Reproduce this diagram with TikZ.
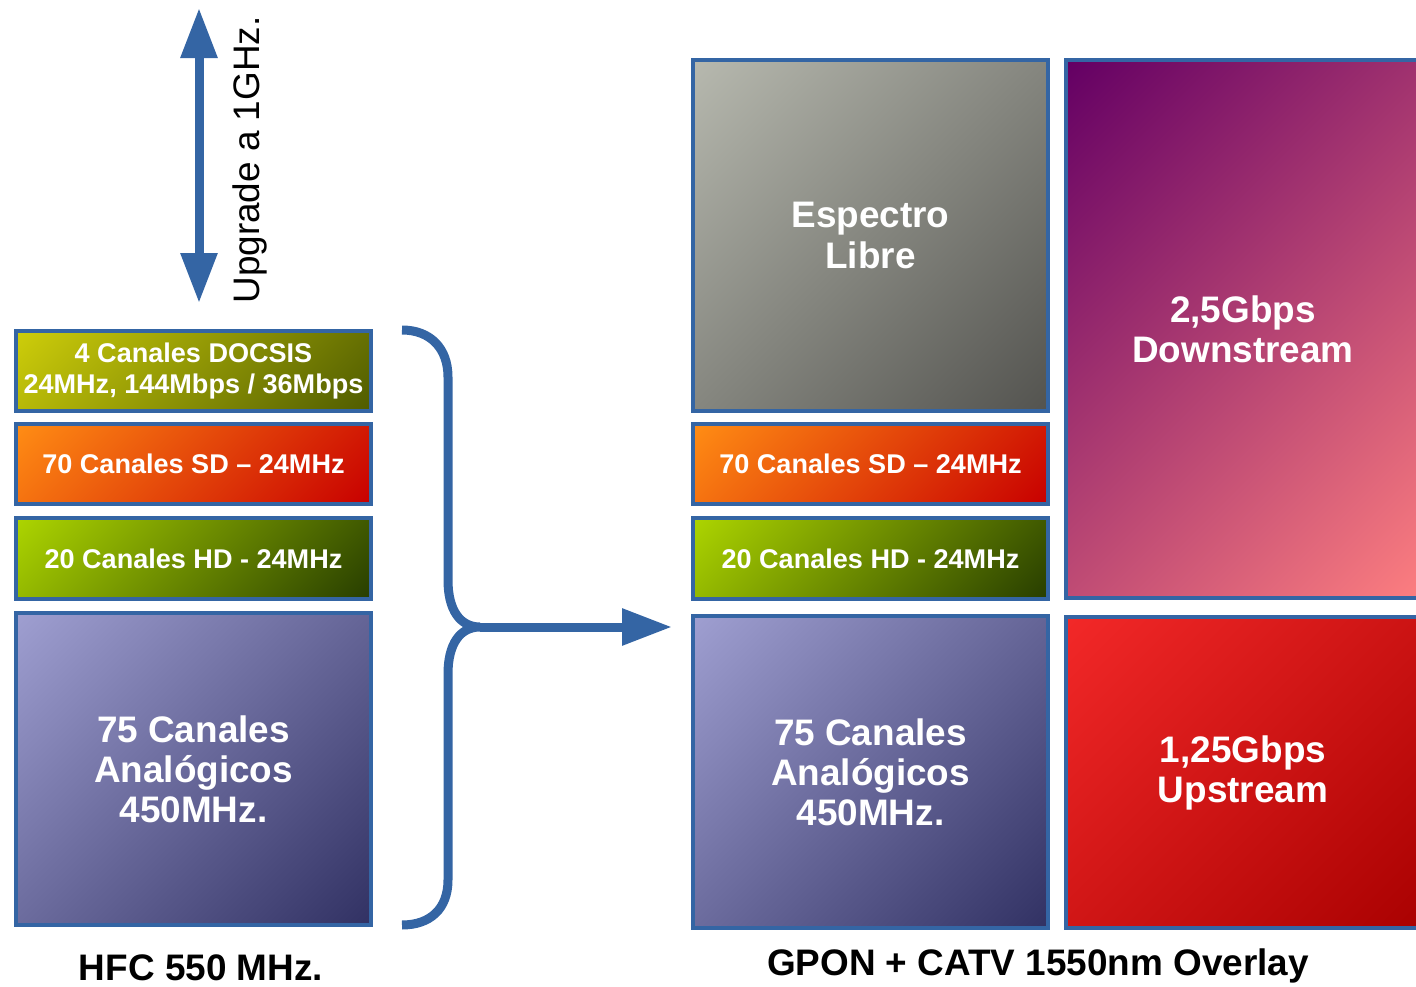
\documentclass[tikz,border=0pt]{standalone}
\usepackage{fontspec}
\setmainfont{Liberation Sans}
\usepackage{xcolor}
\usetikzlibrary{arrows.meta}

\definecolor{frameblue}{RGB}{52,101,164}
\definecolor{docsisA}{RGB}{205,205,10}
\definecolor{docsisB}{RGB}{80,92,0}
\definecolor{sdA}{RGB}{255,140,20}
\definecolor{sdB}{RGB}{200,0,0}
\definecolor{hdA}{RGB}{172,212,0}
\definecolor{hdB}{RGB}{40,62,0}
\definecolor{anaA}{RGB}{158,158,208}
\definecolor{anaB}{RGB}{50,50,100}
\definecolor{libreA}{RGB}{182,184,174}
\definecolor{libreB}{RGB}{84,84,80}
\definecolor{downA}{RGB}{100,0,100}
\definecolor{downB}{RGB}{255,128,128}
\definecolor{upA}{RGB}{242,40,40}
\definecolor{upB}{RGB}{168,0,0}

% diagonal gradient, corner to corner
\colorlet{gradA}{white}
\colorlet{gradB}{black}
\pgfdeclareverticalshading[gradA,gradB]{diag}{100bp}{color(0bp)=(gradB); color(15bp)=(gradB); color(85bp)=(gradA); color(100bp)=(gradA)}

\begin{document}
\begin{tikzpicture}[
  band/.style={draw=frameblue,line width=1.2pt,minimum width=3.55cm,inner sep=0pt,
    align=center,text=white,font=\bfseries\fontsize{10.5}{11.4}\selectfont},
  slim/.style={band,minimum height=0.80cm,font=\bfseries\fontsize{7.7}{8.6}\selectfont},
  panel/.style={draw=frameblue,line width=1.2pt},
  grad/.style 2 args={/utils/exec={\colorlet{gradA}{#1}\colorlet{gradB}{#2}},shade,shading=diag,shading angle=45},
  boxtext/.style={align=center,text=white,font=\bfseries\fontsize{10.5}{11.4}\selectfont},
  caption/.style={font=\bfseries\fontsize{10.5}{12}\selectfont},
  arr/.style={line width=0.09cm,draw=frameblue,-{Triangle[length=0.5cm,width=0.35cm]}},
  brace/.style={line width=0.09cm,draw=frameblue}
]
  \useasboundingbox (0,0) rectangle (14.16,9.86);
  \clip (0,0) rectangle (14.16,9.86);

  % HFC side
  \node[slim,grad={docsisA}{docsisB}] (docsisL) at (1.935,6.15) {4 Canales DOCSIS\\24MHz, 144Mbps / 36Mbps};
  \node[slim,grad={sdA}{sdB}] (sdL) at (1.935,5.22) {70 Canales SD -- 24MHz};
  \node[slim,grad={hdA}{hdB},minimum height=0.81cm] (hdL) at (1.935,4.275) {20 Canales HD - 24MHz};
  \node[band,grad={anaA}{anaB},minimum height=3.12cm] (anaL) at (1.935,2.17) {75 Canales\\Anal\'ogicos\\450MHz.};

  % GPON side
  \node[band,grad={libreA}{libreB},minimum height=3.51cm] (libre) at (8.705,7.505) {Espectro\\Libre};
  \node[slim,grad={sdA}{sdB}] (sdR) at (8.705,5.22) {70 Canales SD -- 24MHz};
  \node[slim,grad={hdA}{hdB},minimum height=0.81cm] (hdR) at (8.705,4.275) {20 Canales HD - 24MHz};
  \node[band,grad={anaA}{anaB},minimum height=3.12cm] (anaR) at (8.705,2.14) {75 Canales\\Anal\'ogicos\\450MHz.};

  % PON bands (cut by the right edge)
  \path[panel,grad={downA}{downB}] (10.66,3.88) rectangle (14.40,9.26);
  \path[panel,grad={upA}{upB}] (10.66,0.58) rectangle (14.40,3.69);
  \node[boxtext] (down) at (12.43,6.57) {2,5Gbps\\Downstream};
  \node[boxtext] (up) at (12.43,2.135) {1,25Gbps\\Upstream};

  % Captions
  \node[caption] (hfc) at (2.01,0.18) {HFC 550 MHz.};
  \node[caption] (gpon) at (10.38,0.20) {GPON + CATV 1550nm Overlay};

  % Upgrade arrow
  \coordinate (upTop) at (1.99,9.78);
  \coordinate (upBot) at (1.99,6.83);
  \draw[arr,{Triangle[length=0.5cm,width=0.35cm]}-{Triangle[length=0.5cm,width=0.35cm]}] (upBot) -- (upTop);
  \node[rotate=90,font=\fontsize{10.5}{12}\selectfont] (upg) at (2.50,8.26) {Upgrade a 1GHz.};

  % Brace and arrow
  \coordinate (bTop) at (4.02,6.56);
  \coordinate (bTip) at (4.80,3.59);
  \coordinate (bBot) at (4.02,0.61);
  \coordinate (arrEnd) at (6.72,3.59);
  \draw[brace] (bTop) .. controls (4.30,6.56) and (4.48,6.38) .. (4.48,6.09)
    -- (4.48,4.06) .. controls (4.48,3.76) and (4.60,3.59) .. (bTip)
    .. controls (4.60,3.59) and (4.48,3.42) .. (4.48,3.12)
    -- (4.48,1.06) .. controls (4.48,0.77) and (4.30,0.61) .. (bBot);
  \draw[arr] (bTip) -- (arrEnd);
\end{tikzpicture}
\end{document}
